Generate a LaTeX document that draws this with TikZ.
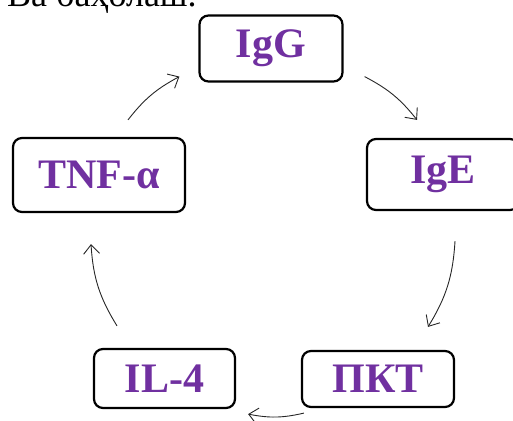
\documentclass[tikz,border=0pt]{standalone}
\usepackage{fontspec}
\setmainfont{Liberation Serif}
\usetikzlibrary{arrows.meta,calc}
\definecolor{lblpurple}{HTML}{7030A0}
\tikzset{
  box/.style={draw=black, line width=2.2pt, rounded corners=9pt, fill=white,
    inner sep=0pt, text=lblpurple, font=\bfseries\fontsize{42}{50}\selectfont},
  arr/.style={draw=black!85, line width=0.9pt,
    -{Straight Barb[length=9pt,width=16pt,line width=0.9pt]}},
}
\begin{document}
\begin{tikzpicture}[x=1pt,y=1pt]
\useasboundingbox (0,0) rectangle (513,420);
\begin{scope}
\clip (0,0) rectangle (513,420);
\node[anchor=base west, inner sep=0pt, font=\fontsize{36}{42}\selectfont] (head) at (7,413) {Ва баҳолаш.};
\node[box, minimum width=143pt, minimum height=66pt] (IgG) at (271,371.5) {IgG};
\node[box, minimum width=172pt, minimum height=74pt] (TNF) at (99,245) {TNF-α};
\node[box, minimum width=152pt, minimum height=71pt] (IgE) at (443,245.5) {IgE};
\node[box, minimum width=141pt, minimum height=59pt] (IL) at (164.5,41.5) {IL-4};
\node[box, minimum width=152pt, minimum height=56pt] (PKT) at (378,41) {ПКТ};
\end{scope}
\draw[arr] ($(TNF.north)+(29,17)$) to[bend left=12] ($(IgG.south west)+(-19,6)$);
\draw[arr] ($(IgG.south east)+(21,6)$) to[bend left=12] ($(IgE.north)+(-26,18)$);
\draw[arr] ($(IgE.south)+(12,-30)$) to[bend left=14] ($(PKT.north)+(50,23)$);
\draw[arr] ($(PKT.south west)+(3,-5)$) to[bend left=12] ($(IL.south east)+(12,-5)$);
\draw[arr] ($(IL.north)+(-47.5,22)$) to[bend left=14] ($(TNF.south)+(-8,-31)$);
\end{tikzpicture}
\end{document}
